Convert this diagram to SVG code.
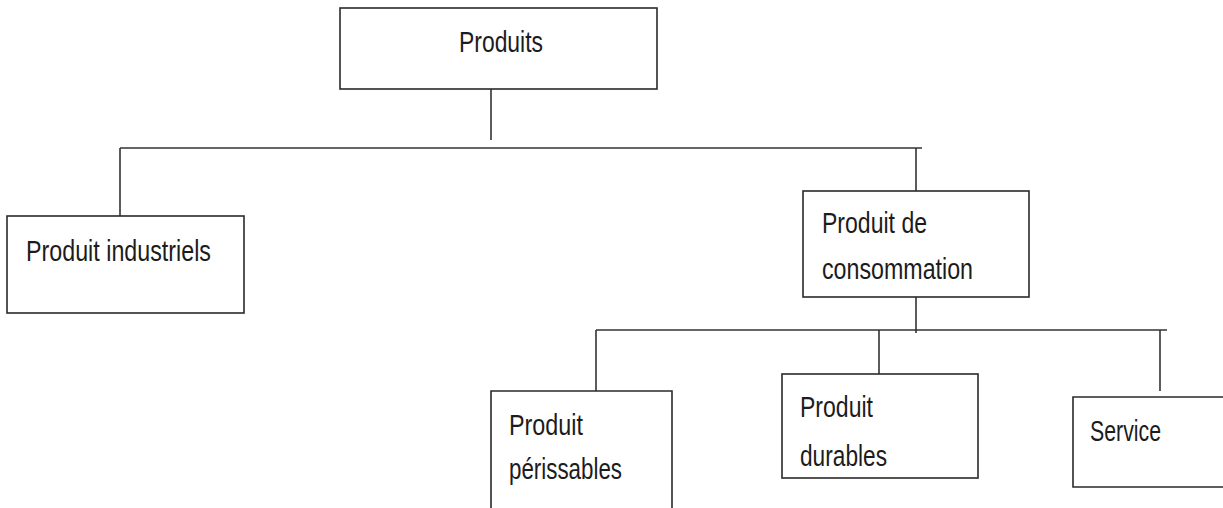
<svg xmlns="http://www.w3.org/2000/svg" width="1223" height="508" viewBox="0 0 1223 508">
  <style>
    .box { fill: #ffffff; stroke: #2a2a2a; stroke-width: 1.6; }
    .wire { fill: none; stroke: #333333; stroke-width: 1.6; }
    .lbl { font-family: "Liberation Sans", Arial, sans-serif; font-size: 30px; fill: #1c1c1c; }
  </style>
  <rect width="1223" height="508" fill="#ffffff"/>

  <!-- hierarchy connectors -->
  <g id="connectors">
    <path class="wire" d="M491 86 V140"/>
    <path class="wire" d="M120 148 H922"/>
    <path class="wire" d="M120 148 V216"/>
    <path class="wire" d="M916 148 V191"/>
    <path class="wire" d="M916 291 V333"/>
    <path class="wire" d="M596 330 H1167"/>
    <path class="wire" d="M596 330 V391"/>
    <path class="wire" d="M879 330 V374"/>
    <path class="wire" d="M1160 330 V391"/>
  </g>

  <g id="produits">
    <rect class="box" x="340" y="8" width="317" height="81"/>
    <text class="lbl" x="459" y="52" textLength="84" lengthAdjust="spacingAndGlyphs">Produits</text>
  </g>

  <g id="produit-industriels">
    <rect class="box" x="7" y="216" width="237" height="97"/>
    <text class="lbl" x="26" y="261" textLength="185" lengthAdjust="spacingAndGlyphs">Produit industriels</text>
  </g>

  <g id="produit-consommation">
    <rect class="box" x="803" y="191" width="226" height="106"/>
    <text class="lbl" x="822" y="233" textLength="105" lengthAdjust="spacingAndGlyphs">Produit de</text>
    <text class="lbl" x="822" y="279" textLength="151" lengthAdjust="spacingAndGlyphs">consommation</text>
  </g>

  <g id="produit-perissables">
    <path class="box" d="M491 510 V391 H672 V510"/>
    <text class="lbl" x="509" y="435" textLength="74" lengthAdjust="spacingAndGlyphs">Produit</text>
    <text class="lbl" x="509" y="479" textLength="113" lengthAdjust="spacingAndGlyphs">périssables</text>
  </g>

  <g id="produit-durables">
    <rect class="box" x="782" y="374" width="196" height="104"/>
    <text class="lbl" x="800" y="417" textLength="73" lengthAdjust="spacingAndGlyphs">Produit</text>
    <text class="lbl" x="800" y="466" textLength="87" lengthAdjust="spacingAndGlyphs">durables</text>
  </g>

  <g id="service">
    <path class="box" d="M1225 397 H1073 V487 H1225"/>
    <text class="lbl" x="1090" y="441" textLength="71" lengthAdjust="spacingAndGlyphs">Service</text>
  </g>
</svg>
